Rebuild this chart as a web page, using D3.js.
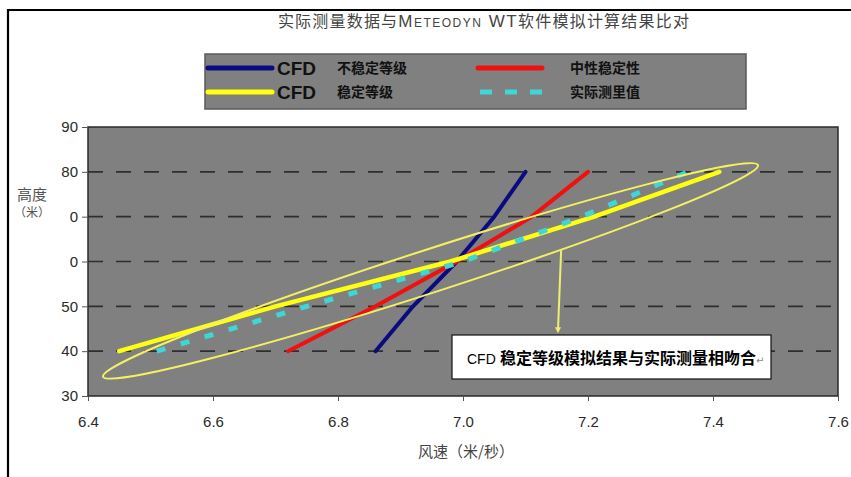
<!DOCTYPE html>
<html>
<head>
<meta charset="utf-8">
<script src="https://cdn.jsdelivr.net/npm/d3@7"></script>
<style>
  html, body { margin: 0; padding: 0; background: #fff; }
  svg { display: block; }
</style>
</head>
<body>
<svg id="chart" width="851" height="477"></svg>
<script>
// ---------- data ----------
const heights = [40, 50, 60, 70, 80];
const cfdUnstable = [6.86, 6.92, 6.99, 7.05, 7.10];   // CFD 不稳定等级
const neutral     = [6.72, 6.86, 6.99, 7.11, 7.20];   // 中性稳定性
const cfdStable   = [6.45, 6.70, 6.98, 7.21, 7.41];   // CFD 稳定等级
const measured    = [6.51, 6.75, 7.00, 7.19, 7.36];   // 实际测量值

const xTicks = [6.4, 6.6, 6.8, 7.0, 7.2, 7.4, 7.6];
const yTicks = [90, 80, 70, 60, 50, 40, 30];
const yTickLabels = ["90", "80", "0", "0", "50", "40", "30"];

const titleText = ["实际测量数据与", "Meteodyn WT", "软件模拟计算结果比对"];
const xTitle = "风速（米/秒）";
const yTitle = ["高度", "（米）"];
const annotationText = "CFD 稳定等级模拟结果与实际测量相吻合";

// annotation ellipse tips and arrow (data coordinates)
const ellipseTips = [[6.424, 34.3], [7.472, 81.5]];
const arrowFrom = [7.157, 62.5];
const arrowTo = [7.152, 44.0];

// ---------- chart ----------
const svg = d3.select("#chart");
const fontLatin = "'Liberation Sans', Arial, sans-serif";
const fontCJK = "'Noto Sans CJK SC', 'Noto Sans', sans-serif";

const x = d3.scaleLinear().domain([6.4, 7.6]).range([88, 838]);
const y = d3.scaleLinear().domain([30, 90]).range([396, 127]);

// outer frame (top + left lines)
svg.append("line").attr("x1", 8).attr("x2", 851).attr("y1", 10).attr("y2", 10)
  .attr("stroke", "#000").attr("stroke-width", 2.2);
svg.append("line").attr("x1", 8).attr("x2", 8).attr("y1", 9).attr("y2", 477)
  .attr("stroke", "#000").attr("stroke-width", 2.2);

// title
const title = svg.append("text").attr("x", 484).attr("y", 27)
  .attr("text-anchor", "middle").attr("fill", "#444")
  .attr("font-family", fontCJK).attr("font-size", 16).attr("letter-spacing", 1.2);
title.append("tspan").text(titleText[0]);
title.append("tspan").attr("font-family", fontLatin).attr("font-variant", "small-caps")
  .attr("letter-spacing", 1.5).attr("font-size", 17).text(titleText[1]);
title.append("tspan").text(titleText[2]);

// plot area
svg.append("rect").attr("x", x(6.4)).attr("y", y(90))
  .attr("width", x(7.6) - x(6.4)).attr("height", y(30) - y(90))
  .attr("fill", "#808080").attr("stroke", "#2a2a2a").attr("stroke-width", 1.5);

// gridlines
svg.append("g").selectAll("line").data([40, 50, 60, 70, 80]).join("line")
  .attr("x1", x(6.4)).attr("x2", x(7.6))
  .attr("y1", d => y(d)).attr("y2", d => y(d))
  .attr("stroke", "#2e2e2e").attr("stroke-width", 1.6)
  .attr("stroke-dasharray", "15,13");

// axes
const yAxis = d3.axisLeft(y).tickValues(yTicks)
  .tickFormat(d => yTickLabels[yTicks.indexOf(d)])
  .tickSize(6).tickPadding(4);
const gy = svg.append("g").attr("transform", `translate(${x(6.4)},0)`).call(yAxis);
const xAxis = d3.axisBottom(x).tickValues(xTicks).tickFormat(d3.format(".1f"))
  .tickSize(5).tickPadding(15);
const gx = svg.append("g").attr("transform", `translate(0,${y(30)})`).call(xAxis);
[gx, gy].forEach(g => {
  g.select(".domain").remove();
  g.selectAll(".tick line").attr("stroke", "#555");
  g.selectAll(".tick text").attr("font-family", fontLatin).attr("font-size", 15)
    .attr("fill", "#2a2a2a");
});

// axis titles
svg.append("text").attr("x", 466).attr("y", 457).attr("text-anchor", "middle")
  .attr("font-family", fontCJK).attr("font-size", 15).attr("fill", "#444").text(xTitle);
svg.append("text").attr("x", 32).attr("y", 200).attr("text-anchor", "middle")
  .attr("font-family", fontCJK).attr("font-size", 15).attr("fill", "#555").text(yTitle[0]);
svg.append("text").attr("x", 32).attr("y", 217).attr("text-anchor", "middle")
  .attr("font-family", fontCJK).attr("font-size", 12).attr("fill", "#555").text(yTitle[1]);

// series
const line = d3.line().x(d => x(d[0])).y(d => y(d[1]));
const series = [
  { values: cfdUnstable, color: "#0b0b80", width: 4, dash: null },
  { values: neutral, color: "#f01010", width: 4, dash: null },
  { values: measured, color: "#3fd6d6", width: 5, dash: "9,16" },
  { values: cfdStable, color: "#ffff10", width: 4.5, dash: null }
];
// draw yellow under cyan
const order = [0, 1, 3, 2];
order.forEach(i => {
  const s = series[i];
  svg.append("path").datum(s.values.map((v, k) => [v, heights[k]]))
    .attr("d", line).attr("fill", "none")
    .attr("stroke", s.color).attr("stroke-width", s.width)
    .attr("stroke-linecap", s.dash ? "butt" : "round")
    .attr("stroke-linejoin", "round")
    .attr("stroke-dasharray", s.dash);
});

// annotation ellipse
const p1 = [x(ellipseTips[0][0]), y(ellipseTips[0][1])];
const p2 = [x(ellipseTips[1][0]), y(ellipseTips[1][1])];
const cx = (p1[0] + p2[0]) / 2, cy = (p1[1] + p2[1]) / 2;
const ang = Math.atan2(p2[1] - p1[1], p2[0] - p1[0]) * 180 / Math.PI;
const rx = Math.hypot(p2[0] - p1[0], p2[1] - p1[1]) / 2;
svg.append("ellipse").attr("cx", 0).attr("cy", 0).attr("rx", rx).attr("ry", 21.5)
  .attr("transform", `translate(${cx},${cy}) rotate(${ang})`)
  .attr("fill", "none").attr("stroke", "#f4f060").attr("stroke-width", 2);

// arrow
const a1 = [x(arrowFrom[0]), y(arrowFrom[1])], a2 = [x(arrowTo[0]), y(arrowTo[1])];
svg.append("line").attr("x1", a1[0]).attr("y1", a1[1]).attr("x2", a2[0]).attr("y2", a2[1] - 3)
  .attr("stroke", "#eeee70").attr("stroke-width", 2);
svg.append("path")
  .attr("d", `M${a2[0] - 3},${a2[1] - 6} L${a2[0] + 3},${a2[1] - 6} L${a2[0]},${a2[1]} Z`)
  .attr("fill", "#eeee70");

// annotation box
svg.append("rect").attr("x", 452).attr("y", 335).attr("width", 319).attr("height", 44)
  .attr("fill", "#fff").attr("stroke", "#111").attr("stroke-width", 1.2);
const ann = svg.append("text").attr("x", 467).attr("y", 364)
  .attr("font-family", fontCJK).attr("font-size", 16).attr("fill", "#000");
ann.append("tspan").attr("font-family", fontLatin).attr("font-size", 14).text("CFD");
ann.append("tspan").attr("x", 500).attr("font-weight", "bold")
  .text(annotationText.replace("CFD ", ""));
ann.append("tspan").attr("font-family", "'DejaVu Sans', sans-serif").attr("font-size", 10)
  .attr("fill", "#888").text("↵");

// legend
const legend = svg.append("g");
legend.append("rect").attr("x", 205).attr("y", 54).attr("width", 541).attr("height", 55)
  .attr("fill", "#808080").attr("stroke", "#5a5a5a").attr("stroke-width", 1.5);
const legendItems = [
  { color: "#0b0b80", dash: null, big: "CFD", label: "不稳定等级", lx: 208, row: 0 },
  { color: "#f01010", dash: null, big: "", label: "中性稳定性", lx: 478, row: 0 },
  { color: "#ffff10", dash: null, big: "CFD", label: "稳定等级", lx: 208, row: 1 },
  { color: "#3fd6d6", dash: "12,13", big: "", label: "实际测里值", lx: 480, row: 1 }
];
legendItems.forEach(it => {
  const ly = it.row === 0 ? 68 : 92;
  legend.append("line").attr("x1", it.lx).attr("x2", it.lx + 64)
    .attr("y1", ly).attr("y2", ly)
    .attr("stroke", it.color).attr("stroke-width", 5)
    .attr("stroke-linecap", it.dash ? "butt" : "round")
    .attr("stroke-dasharray", it.dash);
  if (it.big) {
    legend.append("text").attr("x", 277).attr("y", ly + 7)
      .attr("font-family", fontLatin).attr("font-weight", "bold").attr("font-size", 19)
      .attr("fill", "#111").text(it.big);
    legend.append("text").attr("x", 337).attr("y", ly + 5)
      .attr("font-family", fontCJK).attr("font-weight", "bold").attr("font-size", 14)
      .attr("fill", "#111").text(it.label);
  } else {
    legend.append("text").attr("x", 570).attr("y", ly + 5)
      .attr("font-family", fontCJK).attr("font-weight", "bold").attr("font-size", 14)
      .attr("fill", "#111").text(it.label);
  }
});
</script>
</body>
</html>
